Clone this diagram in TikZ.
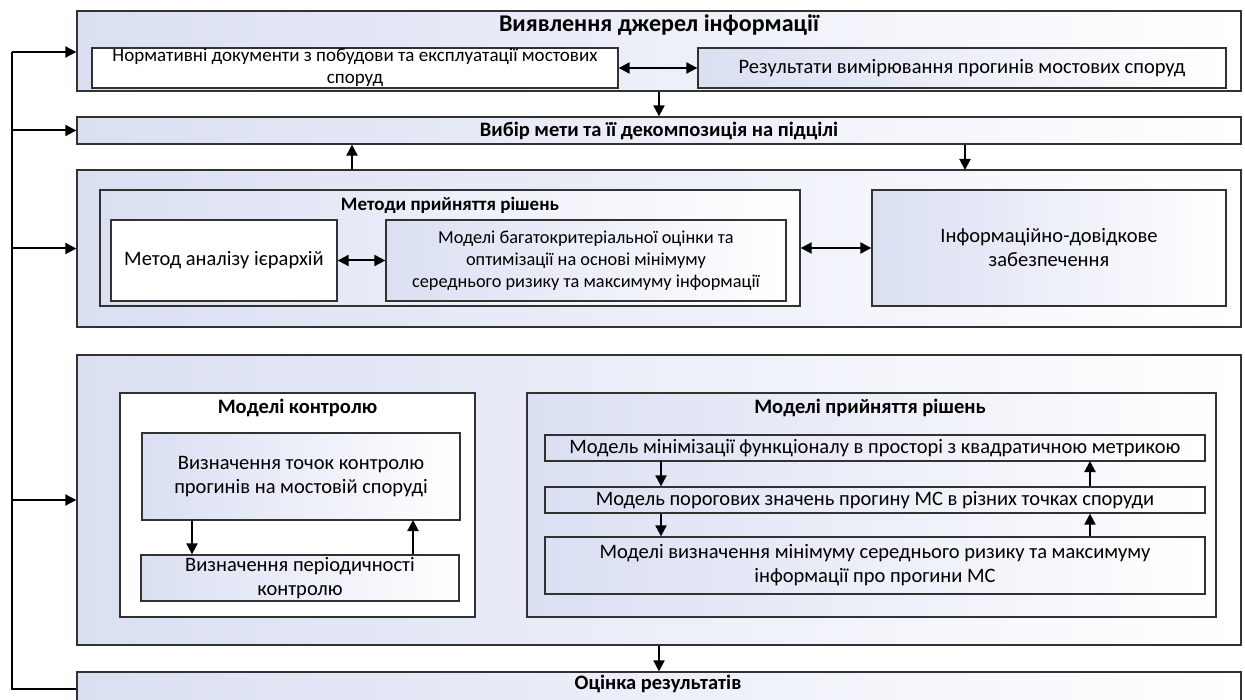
\documentclass[tikz,border=0pt]{standalone}
\usepackage{fontspec}
\setmainfont{Carlito}
\usetikzlibrary{arrows.meta}

\begin{document}
\begin{tikzpicture}[x=1pt,y=-1pt,
  blk/.style={draw=linecolor,line width=1.3pt,inner sep=0pt,align=center,font=\fontsize{20.5}{24}\selectfont},
  shd/.style={blk,left color=fillcolor,right color=white},
  wht/.style={blk,fill=white},
  ttl/.style={font=\bfseries\fontsize{20.5}{22}\selectfont,inner sep=0pt},
  arr/.style={-{Triangle[length=11pt,width=11pt]},line width=2pt},
  darr/.style={{Triangle[length=11pt,width=11pt]}-{Triangle[length=11pt,width=11pt]},line width=2pt}]
\definecolor{linecolor}{RGB}{50,50,50} % box outline
\definecolor{fillcolor}{RGB}{218,223,242} % light blue of the shaded boxes
\clip (0,0) rectangle (1245,700); % page size, the last box is cut at the bottom

% sources of information
\node[shd,minimum width=1164,minimum height=80] (src) at (659,51) {};
\node[ttl,font=\bfseries\fontsize{24}{26}\selectfont] (src-t) at (659,25) {Виявлення джерел інформації};
\node[wht,minimum width=526,minimum height=40,font=\fontsize{19}{22}\selectfont] (norm) at (355,68) {Нормативні документи з побудови та експлуатації мостових\\споруд};
\node[shd,minimum width=528,minimum height=40] (meas) at (962,68) {Результати вимірювання прогинів мостових споруд};
\draw[darr] (norm.east) -- (meas.west);

% goal
\node[shd,minimum width=1164,minimum height=27,font=\bfseries\fontsize{20.5}{22}\selectfont] (goal) at (659,130.5) {Вибір мети та її декомпозиція на підцілі};
\draw[arr] (src.south) -- (src.south |- goal.north);

% methods
\node[shd,minimum width=1164,minimum height=157] (meth) at (659,248.5) {};
\coordinate (up1) at (352,170); % foot of the arrow up to the goal
\coordinate (dn1) at (965,170); % head of the arrow down from the goal
\draw[arr] (up1) -- (up1 |- goal.south);
\draw[arr] (dn1 |- goal.south) -- (dn1);
\node[shd,minimum width=700,minimum height=116] (mdec) at (450,248) {};
\node[ttl,font=\bfseries\fontsize{19}{21}\selectfont] (mdec-t) at (450,205) {Методи прийняття рішень};
\node[wht,minimum width=226,minimum height=81] (ahp) at (224,260.5) {Метод аналізу ієрархій};
\node[shd,minimum width=400,minimum height=81,font=\fontsize{18.3}{22}\selectfont] (crit) at (586,260.5) {Моделі багатокритеріальної оцінки та\\оптимізації на основі мінімуму\\середнього ризику та максимуму інформації};
\draw[darr] (ahp.east) -- (crit.west);
\node[shd,minimum width=354,minimum height=116] (info) at (1049,248) {Інформаційно-довідкове\\забезпечення};
\draw[darr] (mdec.east) -- (info.west);

% models
\node[shd,minimum width=1164,minimum height=290] (mdl) at (659,500) {};
\node[wht,minimum width=355,minimum height=224] (ctrl) at (297.5,505) {};
\node[ttl] (ctrl-t) at (297.5,408) {Моделі контролю};
\node[shd,minimum width=318,minimum height=87] (pts) at (301,476.5) {Визначення точок контролю\\прогинів на мостовій споруді};
\node[shd,minimum width=318,minimum height=46] (per) at (300,578) {Визначення періодичності\\контролю};
\coordinate (c1) at (192,520); % left arrow between the control boxes
\coordinate (c2) at (413,520); % right arrow between the control boxes
\draw[arr] (c1) -- (c1 |- per.north);
\draw[arr] (c2 |- per.north) -- (c2);

\node[shd,minimum width=689,minimum height=224] (dec) at (871.5,505) {};
\node[ttl] (dec-t) at (870,408) {Моделі прийняття рішень};
\node[shd,minimum width=660,minimum height=26] (m1) at (875,448) {Модель мінімізації функціоналу в просторі з квадратичною метрикою};
\node[shd,minimum width=660,minimum height=26] (m2) at (875,500) {Модель порогових значень прогину МС в різних точках споруди};
\node[shd,minimum width=660,minimum height=57] (m3) at (875,565.5) {Моделі визначення мінімуму середнього ризику та максимуму\\інформації про прогини МС};
\coordinate (d1) at (661,461); % down arrows
\coordinate (u2) at (1090,461); % up arrows
\draw[arr] (d1) -- (d1 |- m2.north);
\draw[arr] (d1 |- m2.south) -- (d1 |- m3.north);
\draw[arr] (u2 |- m2.north) -- (u2);
\draw[arr] (u2 |- m3.north) -- (u2 |- m2.south);

% evaluation
\node[shd,minimum width=1164,minimum height=34] (eval) at (659,689) {};
\node[ttl] (eval-t) at (658,684) {Оцінка результатів};
\draw[arr] (mdl.south) -- (mdl.south |- eval.north);

% feedback line on the left
\coordinate (fbot) at (12,689);
\coordinate (ftop) at (12,52);
\draw[line width=2.6pt] (eval.west) -- (fbot) -- (ftop);
\draw[arr] (ftop) -- (ftop -| src.west);
\draw[arr] (goal.west -| ftop) -- (goal.west);
\draw[arr] (meth.west -| ftop) -- (meth.west);
\draw[arr] (mdl.west -| ftop) -- (mdl.west);
\end{tikzpicture}
\end{document}
